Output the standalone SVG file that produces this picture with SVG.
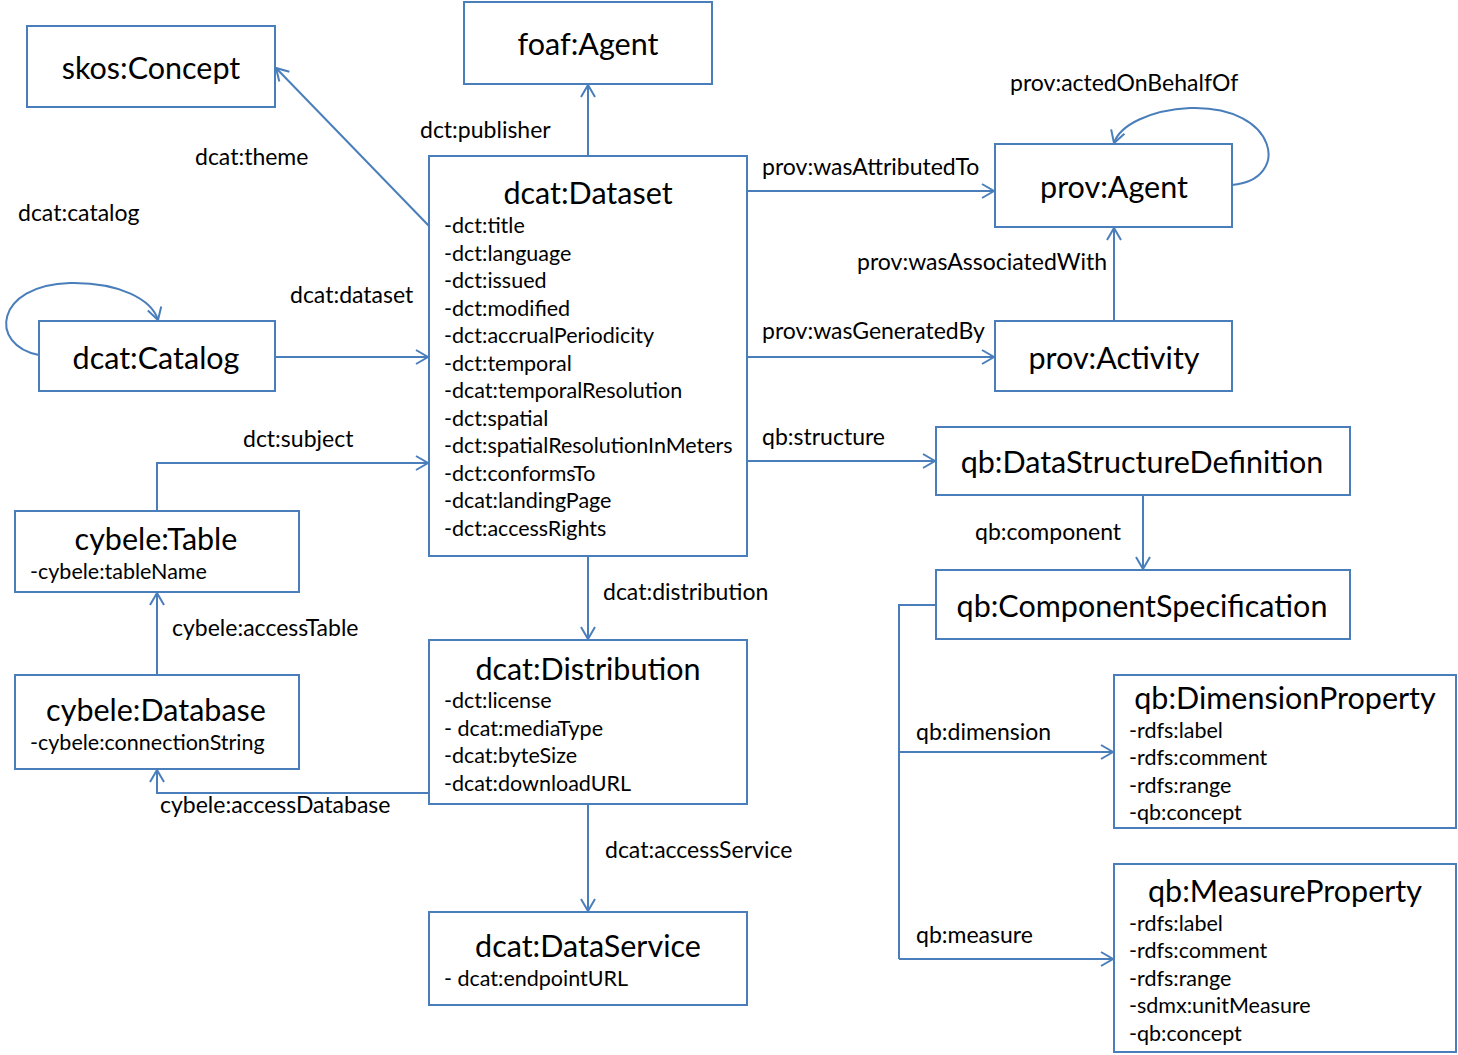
<svg xmlns="http://www.w3.org/2000/svg" width="1458" height="1055" viewBox="0 0 1458 1055">
<style>
.box{fill:#fff;stroke:#4a7ebb;stroke-width:2}
.t{font-family:Lato,"Liberation Sans",sans-serif;font-size:30.5px;fill:#000;text-anchor:middle}
.a{font-family:Lato,"Liberation Sans",sans-serif;font-size:21.5px;fill:#000}
.l{font-family:Lato,"Liberation Sans",sans-serif;font-size:23px;fill:#000}
.c{fill:none;stroke:#4a7ebb;stroke-width:2}
</style>
<defs>
<marker id="ar" markerUnits="userSpaceOnUse" markerWidth="16" markerHeight="16" viewBox="0 0 16 16" refX="14" refY="8" orient="auto">
<path d="M2,1 L14,8 L2,15" fill="none" stroke="#4a7ebb" stroke-width="2"/>
</marker>
</defs>
<g id="connectors">
<path class="c" d="M429,226 L276,68" marker-end="url(#ar)"/>
<path class="c" d="M588,156 L588,85" marker-end="url(#ar)"/>
<path class="c" d="M747,191 L994,191" marker-end="url(#ar)"/>
<path class="c" d="M1232,185 C1292,180 1278,105 1190,108 C1150,110 1120,125 1114,143" marker-end="url(#ar)"/>
<path class="c" d="M1114,321 L1114,228" marker-end="url(#ar)"/>
<path class="c" d="M747,357 L994,357" marker-end="url(#ar)"/>
<path class="c" d="M275,357 L428,357" marker-end="url(#ar)"/>
<path class="c" d="M39,355 C-12,345 -5,285 70,283 C120,282 152,300 158,320" marker-end="url(#ar)"/>
<path class="c" d="M157,511 L157,463 L428,463" marker-end="url(#ar)"/>
<path class="c" d="M747,461 L935,461" marker-end="url(#ar)"/>
<path class="c" d="M1143,495 L1143,569" marker-end="url(#ar)"/>
<path class="c" d="M936,605 L899,605 L899,959"/>
<path class="c" d="M899,752 L1113,752" marker-end="url(#ar)"/>
<path class="c" d="M899,959 L1113,959" marker-end="url(#ar)"/>
<path class="c" d="M588,556 L588,639" marker-end="url(#ar)"/>
<path class="c" d="M588,804 L588,911" marker-end="url(#ar)"/>
<path class="c" d="M157,675 L157,593" marker-end="url(#ar)"/>
<path class="c" d="M429,793 L157,793 L157,770" marker-end="url(#ar)"/>
</g>
<g id="labels">
<text class="l" x="195" y="165">dcat:theme</text>
<text class="l" x="420" y="138">dct:publisher</text>
<text class="l" x="762" y="175">prov:wasAttributedTo</text>
<text class="l" x="1010" y="91">prov:actedOnBehalfOf</text>
<text class="l" x="857" y="270">prov:wasAssociatedWith</text>
<text class="l" x="762" y="339">prov:wasGeneratedBy</text>
<text class="l" x="290" y="303">dcat:dataset</text>
<text class="l" x="18" y="221">dcat:catalog</text>
<text class="l" x="243" y="447">dct:subject</text>
<text class="l" x="762" y="445">qb:structure</text>
<text class="l" x="975" y="540">qb:component</text>
<text class="l" x="916" y="740">qb:dimension</text>
<text class="l" x="916" y="943">qb:measure</text>
<text class="l" x="603" y="600">dcat:distribution</text>
<text class="l" x="605" y="858">dcat:accessService</text>
<text class="l" x="172" y="636">cybele:accessTable</text>
<text class="l" x="160" y="813">cybele:accessDatabase</text>
</g>
<g id="skosConcept"><rect class="box" x="27" y="26" width="248" height="81"/><text class="t" x="151" y="79">skos:Concept</text></g>
<g id="foafAgent"><rect class="box" x="464" y="2" width="248" height="82"/><text class="t" x="588" y="55">foaf:Agent</text></g>
<g id="dcatDataset"><rect class="box" x="429" y="156" width="318" height="400"/><text class="t" x="588" y="204">dcat:Dataset</text>
<text class="a" x="444" y="233">-dct:title</text>
<text class="a" x="444" y="261">-dct:language</text>
<text class="a" x="444" y="288">-dct:issued</text>
<text class="a" x="444" y="316">-dct:modified</text>
<text class="a" x="444" y="343">-dct:accrualPeriodicity</text>
<text class="a" x="444" y="371">-dct:temporal</text>
<text class="a" x="444" y="398">-dcat:temporalResolution</text>
<text class="a" x="444" y="426">-dct:spatial</text>
<text class="a" x="444" y="453">-dct:spatialResolutionInMeters</text>
<text class="a" x="444" y="481">-dct:conformsTo</text>
<text class="a" x="444" y="508">-dcat:landingPage</text>
<text class="a" x="444" y="536">-dct:accessRights</text>
</g>
<g id="provAgent"><rect class="box" x="995" y="144" width="237" height="83"/><text class="t" x="1114" y="198">prov:Agent</text></g>
<g id="provActivity"><rect class="box" x="995" y="321" width="237" height="70"/><text class="t" x="1114" y="369">prov:Activity</text></g>
<g id="dcatCatalog"><rect class="box" x="39" y="321" width="236" height="70"/><text class="t" x="156" y="369">dcat:Catalog</text></g>
<g id="qbDSD"><rect class="box" x="936" y="427" width="414" height="68"/><text class="t" x="1142" y="473">qb:DataStructureDefinition</text></g>
<g id="qbCompSpec"><rect class="box" x="936" y="570" width="414" height="69"/><text class="t" x="1142" y="617">qb:ComponentSpecification</text></g>
<g id="cybeleTable"><rect class="box" x="15" y="511" width="284" height="81"/><text class="t" x="156" y="550">cybele:Table</text>
<text class="a" x="30" y="579">-cybele:tableName</text></g>
<g id="cybeleDatabase"><rect class="box" x="15" y="675" width="284" height="94"/><text class="t" x="156" y="721">cybele:Database</text>
<text class="a" x="30" y="750">-cybele:connectionString</text></g>
<g id="dcatDistribution"><rect class="box" x="429" y="640" width="318" height="164"/><text class="t" x="588" y="680">dcat:Distribution</text>
<text class="a" x="444" y="708">-dct:license</text>
<text class="a" x="444" y="736">- dcat:mediaType</text>
<text class="a" x="444" y="763">-dcat:byteSize</text>
<text class="a" x="444" y="791">-dcat:downloadURL</text>
</g>
<g id="dcatDataService"><rect class="box" x="429" y="912" width="318" height="93"/><text class="t" x="588" y="957">dcat:DataService</text>
<text class="a" x="444" y="986">- dcat:endpointURL</text></g>
<g id="qbDimensionProperty"><rect class="box" x="1114" y="675" width="342" height="153"/><text class="t" x="1285" y="709">qb:DimensionProperty</text>
<text class="a" x="1129" y="738">-rdfs:label</text>
<text class="a" x="1129" y="765">-rdfs:comment</text>
<text class="a" x="1129" y="793">-rdfs:range</text>
<text class="a" x="1129" y="820">-qb:concept</text>
</g>
<g id="qbMeasureProperty"><rect class="box" x="1114" y="864" width="342" height="188"/><text class="t" x="1285" y="902">qb:MeasureProperty</text>
<text class="a" x="1129" y="931">-rdfs:label</text>
<text class="a" x="1129" y="958">-rdfs:comment</text>
<text class="a" x="1129" y="986">-rdfs:range</text>
<text class="a" x="1129" y="1013">-sdmx:unitMeasure</text>
<text class="a" x="1129" y="1041">-qb:concept</text>
</g>
</svg>
